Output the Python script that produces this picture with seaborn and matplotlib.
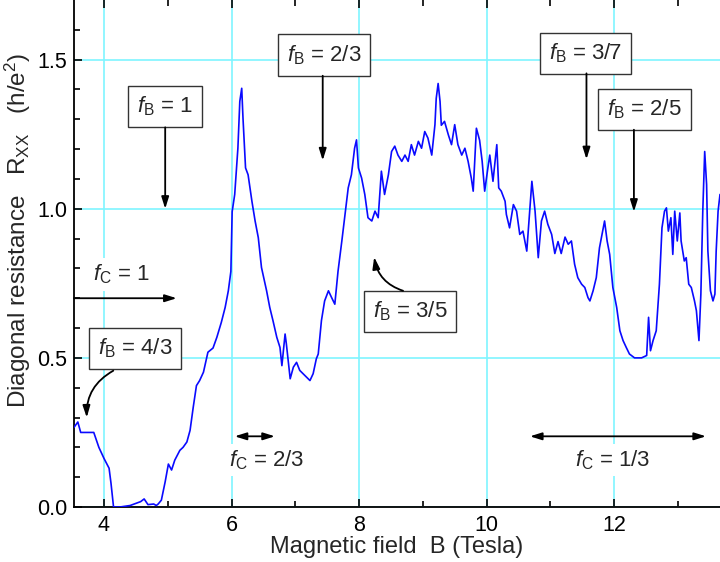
import numpy as np
import pandas as pd
import matplotlib
matplotlib.use("Agg")
import matplotlib.pyplot as plt
import seaborn as sns

# Diagonal resistance trace
b_field = [3.53, 3.59, 3.635, 3.84, 3.92, 4.00, 4.08, 4.11, 4.15, 4.25, 4.41, 4.575, 4.63, 4.69, 4.78, 4.82, 4.85,
           4.90, 4.96, 5.01, 5.06, 5.11, 5.19, 5.24, 5.30, 5.35, 5.40, 5.45, 5.50, 5.56, 5.63, 5.71, 5.77, 5.84,
           5.90, 5.95, 5.99, 6.01, 6.05, 6.10, 6.13, 6.16,
           6.18, 6.22, 6.26, 6.32, 6.37, 6.42, 6.47, 6.55, 6.60, 6.65, 6.71, 6.76, 6.79, 6.84, 6.86, 6.92, 6.97,
           7.02, 7.07, 7.15, 7.23, 7.28, 7.33,
           7.36, 7.41, 7.46, 7.52, 7.57, 7.62, 7.67, 7.73, 7.78, 7.83, 7.88, 7.93, 7.96, 7.99, 8.04, 8.09, 8.14,
           8.20, 8.25, 8.30, 8.35, 8.40, 8.46, 8.51, 8.56, 8.61, 8.67,
           8.72, 8.77, 8.82, 8.87, 8.93, 8.98, 9.03, 9.08, 9.14, 9.19, 9.21, 9.24, 9.27, 9.29, 9.34, 9.40, 9.45,
           9.50, 9.55, 9.61, 9.66, 9.71, 9.76, 9.79, 9.84, 9.89, 9.93,
           9.97, 10.02, 10.05, 10.10, 10.16, 10.19, 10.23, 10.29, 10.31, 10.36, 10.42, 10.47, 10.52, 10.57, 10.63,
           10.68, 10.71, 10.76, 10.81, 10.86, 10.91, 10.96, 11.02, 11.07, 11.12, 11.17, 11.23,
           11.28, 11.33, 11.38, 11.43, 11.49, 11.54, 11.59, 11.62, 11.67, 11.72, 11.77, 11.83, 11.85, 11.89, 11.93,
           11.98, 12.04, 12.09, 12.14, 12.19, 12.24, 12.32, 12.43,
           12.51, 12.54, 12.57, 12.61, 12.66, 12.71, 12.75, 12.79, 12.82, 12.85, 12.89, 12.92, 12.95, 12.99, 13.03,
           13.05, 13.10, 13.13, 13.17, 13.21, 13.26, 13.29, 13.33, 13.36, 13.39, 13.42, 13.45, 13.47, 13.51, 13.55,
           13.58, 13.60, 13.63, 13.66]
r_xx = [0.267, 0.285, 0.25, 0.25, 0.20, 0.163, 0.13, 0.08, 0.0, 0.0, 0.005, 0.018, 0.027, 0.008, 0.01, 0.005, 0.01,
        0.023, 0.085, 0.144, 0.124, 0.157, 0.19, 0.20, 0.218, 0.257, 0.335, 0.407, 0.424, 0.452, 0.519, 0.533, 0.569,
        0.619, 0.669, 0.725, 0.79, 0.99, 1.048, 1.203, 1.36, 1.404,
        1.304, 1.137, 1.114, 1.025, 0.959, 0.903, 0.803, 0.725, 0.669, 0.625, 0.569, 0.535, 0.474, 0.58, 0.547, 0.43,
        0.469, 0.485, 0.458, 0.441, 0.424, 0.447, 0.497,
        0.513, 0.625, 0.691, 0.725, 0.702, 0.68, 0.79, 0.892, 0.981, 1.07, 1.114, 1.203, 1.231, 1.137, 1.103, 1.048,
        0.97, 0.959, 0.992, 0.97, 1.126, 1.048, 1.114, 1.192, 1.21, 1.18, 1.159,
        1.18, 1.159, 1.215, 1.18, 1.226, 1.203, 1.259, 1.237, 1.18, 1.282, 1.37, 1.42, 1.36, 1.28, 1.293, 1.248, 1.215,
        1.282, 1.215, 1.18, 1.203, 1.159, 1.103, 1.059, 1.27, 1.23, 1.16,
        1.059, 1.137, 1.18, 1.092, 1.215, 1.07, 1.059, 1.025, 0.981, 0.936, 1.014, 0.992, 0.914, 0.925, 0.858, 1.003,
        1.092, 0.992, 0.836, 0.959, 0.992, 0.948, 0.914, 0.85, 0.89, 0.85, 0.905,
        0.881, 0.892, 0.814, 0.769, 0.747, 0.736, 0.702, 0.691, 0.725, 0.769, 0.869, 0.936, 0.959, 0.892, 0.847, 0.736,
        0.669, 0.591, 0.558, 0.535, 0.513, 0.50, 0.50,
        0.508, 0.636, 0.524, 0.558, 0.591, 0.747, 0.936, 0.992, 1.003, 0.925, 0.97, 0.847, 0.992, 0.892, 0.986, 0.892,
        0.825, 0.836, 0.747, 0.736, 0.691, 0.658, 0.558, 0.714, 0.992, 1.192, 1.081, 0.858, 0.725, 0.691, 0.714,
        0.858, 0.992, 1.048]

# boxed f_B labels: text, box centre, arrow start, arrow tip, curvature
fb_labels = ["1", "2/3", "3/7", "2/5", "4/3", "3/5"]
fb_box = [(4.96, 1.343), (7.45, 1.516), (11.55, 1.521), (12.475, 1.333), (4.49, 0.531), (8.80, 0.655)]
fb_arrow_from = [(4.96, 1.273), (7.43, 1.446), (11.566, 1.454), (12.31, 1.265), (4.146, 0.457), (8.69, 0.725)]
fb_arrow_to = [(4.96, 1.0), (7.43, 1.162), (11.566, 1.166), (12.31, 0.99), (3.73, 0.30), (8.237, 0.838)]
fb_rad = [0, 0, 0, 0, 0.3, -0.3]

# f_C labels: text, text position, arrow span, arrow style
fc_labels = ["1", "2/3", "1/3"]
fc_text = [(4.28, 0.78), (6.55, 0.157), (11.97, 0.157)]
fc_span = [(3.53, 5.14, 0.70), (6.05, 6.68, 0.237), (10.68, 13.44, 0.237)]
fc_style = ["-|>", "<|-|>", "<|-|>"]

sns.set_style("ticks")
plt.rcParams["font.family"] = ["Liberation Sans", "DejaVu Sans"]
plt.rcParams["mathtext.fontset"] = "custom"
plt.rcParams["mathtext.rm"] = "Liberation Sans"
plt.rcParams["mathtext.it"] = "Liberation Sans:italic"

df = pd.DataFrame({"B": b_field, "R": r_xx})

fig = plt.figure(figsize=(7.2, 5.62), dpi=100)
ax = fig.add_axes([74 / 720, 55 / 562, 646 / 720, 507 / 562])

sns.lineplot(data=df, x="B", y="R", ax=ax, color="#0a0aff", lw=1.2,
             estimator=None, sort=False, zorder=3)

ax.set_xlim(3.53, 13.66)
ax.set_ylim(0, 1.70)
ax.set_xticks([4, 6, 8, 10, 12])
ax.set_xticks([5, 7, 9, 11, 13], minor=True)
ax.set_yticks([0.0, 0.5, 1.0, 1.5])
ax.set_yticks(np.arange(0.1, 1.7, 0.1), minor=True)
ax.yaxis.set_major_formatter(matplotlib.ticker.FormatStrFormatter("%.1f"))
ax.tick_params(which="both", direction="in", top=True, colors="black", labelsize=15.5)
ax.tick_params(which="major", length=6, width=1.2, pad=5)
ax.tick_params(which="minor", length=4, width=1.2)
ax.tick_params(axis="x", which="major", pad=6)

ax.grid(True, which="major", color="#7ff5ff", lw=1.2)
ax.set_axisbelow(True)
for side in ["top", "right"]:
    ax.spines[side].set_visible(False)
for side in ["left", "bottom"]:
    ax.spines[side].set_color("black")
    ax.spines[side].set_linewidth(1.3)

ax.set_xlabel("Magnetic field  B (Tesla)", fontsize=17, labelpad=0)
ax.set_ylabel(r"Diagonal resistance   R$_\mathregular{XX}$   (h/e$^\mathregular{2}$)", fontsize=17.5)
ax.yaxis.set_label_coords(-0.064, 0.545)

for lab, box, a0, a1, rad in zip(fb_labels, fb_box, fb_arrow_from, fb_arrow_to, fb_rad):
    ax.text(box[0], box[1], r"$f_\mathrm{B}$" + " = " + lab, fontsize=16, ha="center", va="center",
            zorder=5, bbox=dict(boxstyle="square,pad=0.4", fc="white", ec="#333333", lw=1.0))
    ax.annotate("", xy=a1, xytext=a0, zorder=5,
                arrowprops=dict(arrowstyle="-|>,head_length=0.7,head_width=0.22", color="black", lw=1.3,
                                shrinkA=0, shrinkB=0, connectionstyle=f"arc3,rad={rad}"))

for lab, pos, span, st in zip(fc_labels, fc_text, fc_span, fc_style):
    ax.text(pos[0], pos[1], r"$f_\mathrm{C}$" + " = " + lab, fontsize=16, ha="center", va="center",
            zorder=4, bbox=dict(boxstyle="square,pad=0.2", fc="white", ec="none"))
    ax.annotate("", xy=(span[1], span[2]), xytext=(span[0], span[2]), zorder=5,
                arrowprops=dict(arrowstyle=st + ",head_length=0.7,head_width=0.22", color="black", lw=1.3,
                                shrinkA=0, shrinkB=0))

fig.savefig("out.png", dpi=100)
plt.close(fig)
